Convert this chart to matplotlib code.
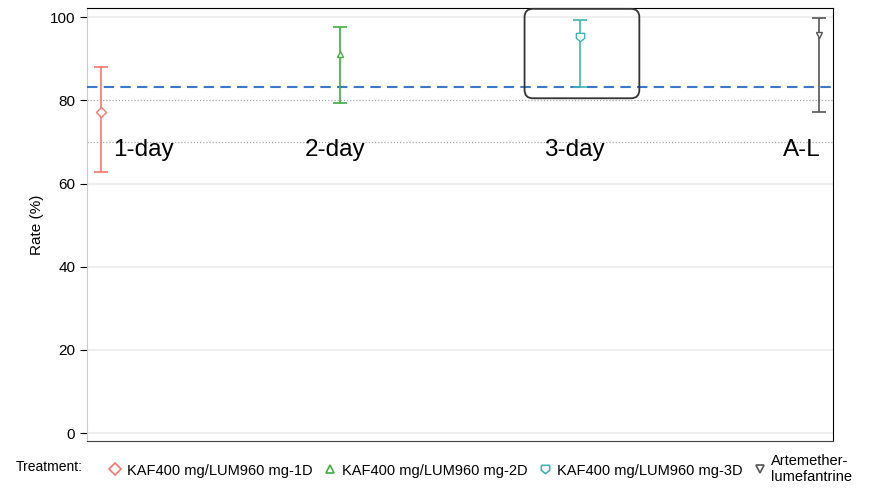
import matplotlib.pyplot as plt
from matplotlib.patches import FancyBboxPatch
from matplotlib.lines import Line2D

plt.rcParams['font.family'] = ['Liberation Sans', 'DejaVu Sans']

# values
groups = ['1-day', '2-day', '3-day', 'A-L']
legend_names = ['KAF400 mg/LUM960 mg-1D', 'KAF400 mg/LUM960 mg-2D',
                'KAF400 mg/LUM960 mg-3D', 'Artemether-\nlumefantrine']
rate = [77.2, 91.1, 95.3, 95.8]
lower = [62.7, 79.3, 83.2, 77.2]
upper = [88.0, 97.6, 99.3, 99.9]
colors = ['#f8766d', '#3fae3f', '#3fb5b0', '#555555']
shield = [(-1, 1), (1, 1), (1, -0.2), (0, -1), (-1, -0.2), (-1, 1)]
markers = ['D', '^', shield, 'v']
threshold = 83.1
ref_lines = [80, 70]

fig = plt.figure(figsize=(8.82, 5.04), dpi=100)
ax = fig.add_axes([87 / 882, 1 - 441 / 504, (833 - 87) / 882, (441 - 8) / 504])

xs = list(range(len(groups)))
for i in xs:
    ax.errorbar(xs[i], rate[i], yerr=[[rate[i] - lower[i]], [upper[i] - rate[i]]],
                fmt='none', ecolor=colors[i], capsize=5, elinewidth=1.2,
                capthick=1.2, zorder=4)
    ax.plot(xs[i], rate[i], ls='none', marker=markers[i], mfc='white',
            mec=colors[i], ms=5 if i != 2 else 6, mew=1.0, zorder=5)

for y in [0, 20, 40, 60, 100]:
    ax.axhline(y, color='#eeeeee', lw=1.5, zorder=0)
for y in ref_lines:
    ax.axhline(y, color='#aaaaaa', lw=0.9, ls=(0, (1, 1.5)), zorder=1)
ax.axhline(threshold, color='#3a78c9', lw=1.5, ls=(0, (5, 3)), zorder=3)

for i, g in enumerate(groups):
    ax.text(xs[i] - 0.15 if i else xs[i] + 0.05, 68, g, fontsize=17.5,
            va='center', ha='left')

box = FancyBboxPatch((1.77, 80.5), 0.48, 21.5,
                     boxstyle='round,pad=0,rounding_size=0.035',
                     transform=ax.transData, fill=False, ec='#333333', lw=1.3,
                     mutation_aspect=57, zorder=6, clip_on=False)
ax.add_patch(box)

ax.set_xlim(-0.06, 3.06)
ax.set_ylim(-1.9, 102.2)
ax.set_xticks([])
ax.set_yticks([0, 20, 40, 60, 80, 100])
ax.tick_params(axis='y', length=5, labelsize=11, color='black')
ax.spines['left'].set_color('#cccccc')
for s in ['top', 'right']:
    ax.spines[s].set_color('black')
ax.spines['bottom'].set_color('#444444')
ax.set_ylabel('Rate (%)', fontsize=11)

# legend row
fig.text(16 / 882, 1 - 467 / 504, 'Treatment:', fontsize=10, va='center')
handles = [Line2D([], [], ls='none', marker=markers[i], mfc='white', mec=colors[i],
                  ms=6, mew=1.2) for i in xs]
leg = fig.legend(handles, legend_names, loc='center left',
                 bbox_to_anchor=(95 / 882, 1 - 469 / 504), ncol=4, frameon=False,
                 fontsize=10.5, handletextpad=0.3, columnspacing=0.7, handlelength=1)

fig.savefig('out.png', dpi=100)
